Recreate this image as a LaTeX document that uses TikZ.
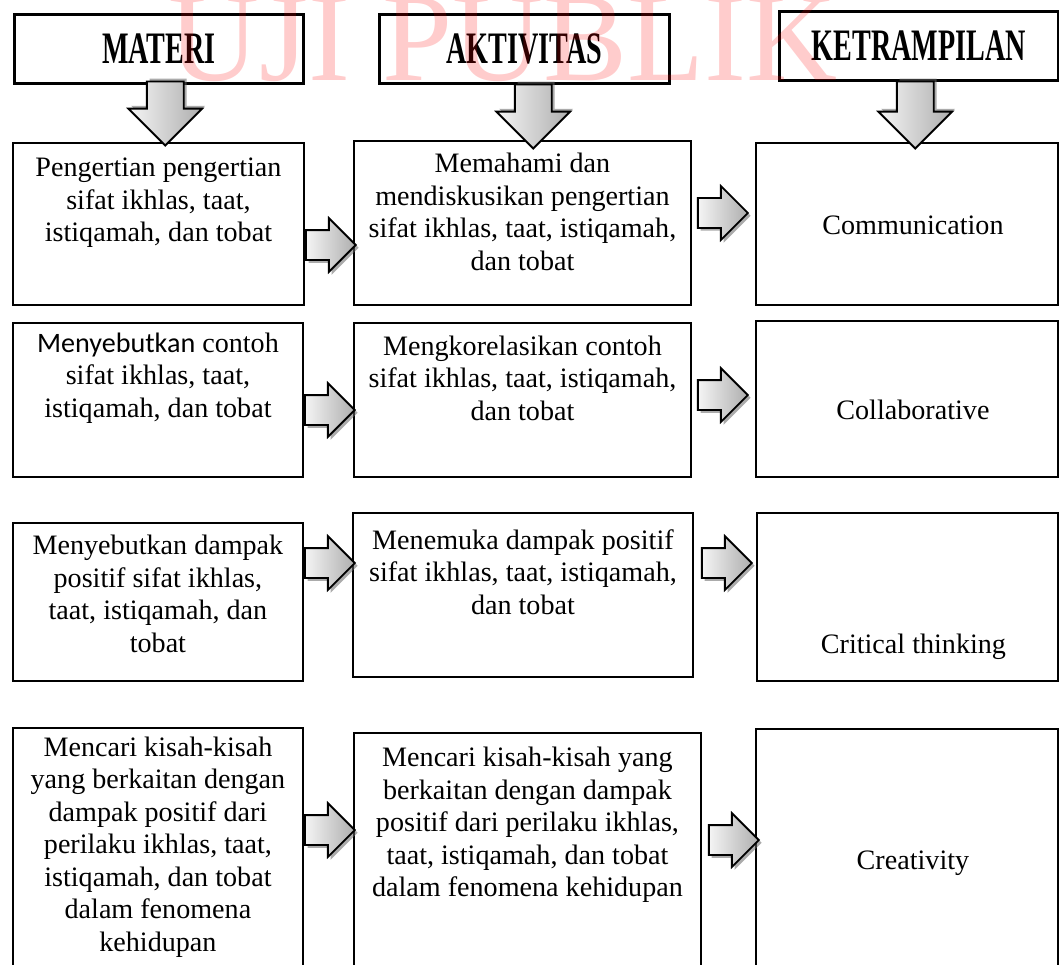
\documentclass[tikz,border=0pt]{standalone}
\usepackage{fontspec}
\setmainfont{Liberation Serif}
\newfontfamily\calibrifont{Carlito}
\usepackage{graphicx}
\usetikzlibrary{shapes.arrows, shadows, calc, positioning}
\newcommand{\headtext}[1]{\scalebox{1}[1.6]{\bfseries #1}}

\begin{document}
\begin{tikzpicture}[
        % --- Style Definitions ---
        x=0.015cm, y=-0.015cm,
        sz/.style 2 args={minimum width=#1*0.015cm, minimum height=#2*0.015cm},
        head_style/.style={rectangle, draw=black, line width=1.1pt, fill=white, inner sep=0pt,
            font=\fontsize{12pt}{13.9pt}\selectfont},
        box_style/.style={rectangle, draw=black, line width=0.8pt, fill=white, inner sep=0pt},
        txt/.style={align=center, inner sep=0pt, font=\fontsize{12pt}{13.9pt}\selectfont},
        arrow_base/.style={single arrow, draw=black, line width=0.8pt, inner xsep=0pt,
            single arrow head indent=0pt, left color=black!4, right color=black!32},
        right_arrow/.style={arrow_base, minimum height=50*0.015cm, inner ysep=14*0.015cm,
            single arrow head extend=12*0.015cm,
            drop shadow={shadow xshift=1.2pt, shadow yshift=-1.2pt, opacity=0.55, fill=black!60}},
        down_arrow/.style={arrow_base, rotate=-90, inner ysep=17.5*0.015cm,
            single arrow head extend=18.5*0.015cm,
            drop shadow={shadow xshift=1.2pt, shadow yshift=1.2pt, opacity=0.55, fill=black!60}},
        watermark/.style={text=red, text opacity=0.2, inner sep=0pt,
            font=\fontsize{53.8pt}{60pt}\selectfont}
    ]
        \useasboundingbox (0,0) rectangle (1059,964);

        %################################################################
        %### Header Boxes ###############################################
        %################################################################
        \node[head_style, sz={289}{69}, anchor=north west] (hMat) at (13,13) {\headtext{MATERI}};
        \node[head_style, sz={290}{69}, anchor=north west] (hAkt) at (378,13) {\headtext{AKTIVITAS}};
        \node[head_style, sz={279}{69}, anchor=north west] (hKet) at (778,10) {\headtext{KETRAMPILAN}};

        %################################################################
        %### Rows ######################################################
        %################################################################

        % --- Row 1 ---
        \node[box_style, sz={291}{162}, anchor=north west] (m1) at (12,142) {};
        \node[box_style, sz={337}{164}, anchor=north west] (a1) at (353,140) {};
        \node[box_style, sz={302}{162}, anchor=north west] (k1) at (755,142) {};

        % --- Row 2 ---
        \node[box_style, sz={290}{154}, anchor=north west] (m2) at (12,322) {};
        \node[box_style, sz={337}{154}, anchor=north west] (a2) at (353,322) {};
        \node[box_style, sz={302}{156}, anchor=north west] (k2) at (755,320) {};

        % --- Row 3 ---
        \node[box_style, sz={290}{158}, anchor=north west] (m3) at (12,522) {};
        \node[box_style, sz={340}{164}, anchor=north west] (a3) at (352,512) {};
        \node[box_style, sz={301}{168}, anchor=north west] (k3) at (756,512) {};

        % --- Row 4 (runs off the page) ---
        \node[box_style, sz={290}{260}, anchor=north west] (m4) at (12,727) {};
        \node[box_style, sz={347}{260}, anchor=north west] (a4) at (353,732) {};
        \node[box_style, sz={302}{260}, anchor=north west] (k4) at (755,728) {};

        % --- Box Texts ---
        \node[txt] (m1t) at ($(m1.north)+(0,61)$) {Pengertian pengertian\\sifat ikhlas, taat,\\istiqamah, dan tobat};
        \node[txt] (a1t) at ($(a1.north)+(0,72)$) {Memahami dan\\mendiskusikan pengertian\\sifat ikhlas, taat, istiqamah,\\dan tobat};
        \node[txt] (k1t) at ($(k1.north)+(6,83)$) {Communication};

        \node[txt] (m2t) at ($(m2.north)+(0,56)$) {{\calibrifont Menyebutkan} contoh\\sifat ikhlas, taat,\\istiqamah, dan tobat};
        \node[txt] (a2t) at ($(a2.north)+(0,56)$) {Mengkorelasikan contoh\\sifat ikhlas, taat, istiqamah,\\dan tobat};
        \node[txt] (k2t) at ($(k2.north)+(6,90)$) {Collaborative};

        \node[txt] (m3t) at ($(m3.north)+(0,72)$) {Menyebutkan dampak\\positif sifat ikhlas,\\taat, istiqamah, dan\\tobat};
        \node[txt] (a3t) at ($(a3.north)+(0,60)$) {Menemuka dampak positif\\sifat ikhlas, taat, istiqamah,\\dan tobat};
        \node[txt] (k3t) at ($(k3.north)+(6,135)$) {Critical thinking};

        \node[txt] (m4t) at ($(m4.north)+(0,120)$) {Mencari kisah-kisah\\yang berkaitan dengan\\dampak positif dari\\perilaku ikhlas, taat,\\istiqamah, dan tobat\\dalam fenomena\\kehidupan};
        \node[txt] (a4t) at ($(a4.north)+(0,93)$) {Mencari kisah-kisah yang\\berkaitan dengan dampak\\positif dari perilaku ikhlas,\\taat, istiqamah, dan tobat\\dalam fenomena kehidupan};
        \node[txt] (k4t) at ($(k4.north)+(6,135)$) {Creativity};

        % --- Down Arrows (header -> first row) ---
        \node[down_arrow, minimum height=64*0.015cm, anchor=tail] (dMat) at ($(hMat.south)+(6.5,-4)$) {};
        \node[down_arrow, minimum height=64*0.015cm, anchor=tail] (dAkt) at ($(hAkt.south)+(9,-1)$) {};
        \node[down_arrow, minimum height=67*0.015cm, anchor=tail] (dKet) at ($(hKet.south)+(-3.5,-1)$) {};

        % --- Right Arrows (materi -> aktivitas) ---
        \node[right_arrow, anchor=tail] (ma1) at ($(m1.north east)+(0,103)$) {};
        \node[right_arrow, anchor=tail] (ma2) at ($(m2.north east)+(0,88)$) {};
        \node[right_arrow, anchor=tail] (ma3) at ($(m3.north east)+(0,41)$) {};
        \node[right_arrow, anchor=tail] (ma4) at ($(m4.north east)+(0,103)$) {};

        % --- Right Arrows (aktivitas -> ketrampilan) ---
        \node[right_arrow, anchor=tail] (ak1) at ($(a1.north east)+(5,73)$) {};
        \node[right_arrow, anchor=tail] (ak2) at ($(a2.north east)+(5,73)$) {};
        \node[right_arrow, anchor=tail] (ak3) at ($(a3.north east)+(7,51)$) {};
        \node[right_arrow, anchor=tail] (ak4) at ($(a4.north east)+(6,108)$) {};

        % --- Watermark ---
        \node[watermark, anchor=base] (wm) at (503,81) {UJI PUBLIK};

    \end{tikzpicture}
\end{document}
